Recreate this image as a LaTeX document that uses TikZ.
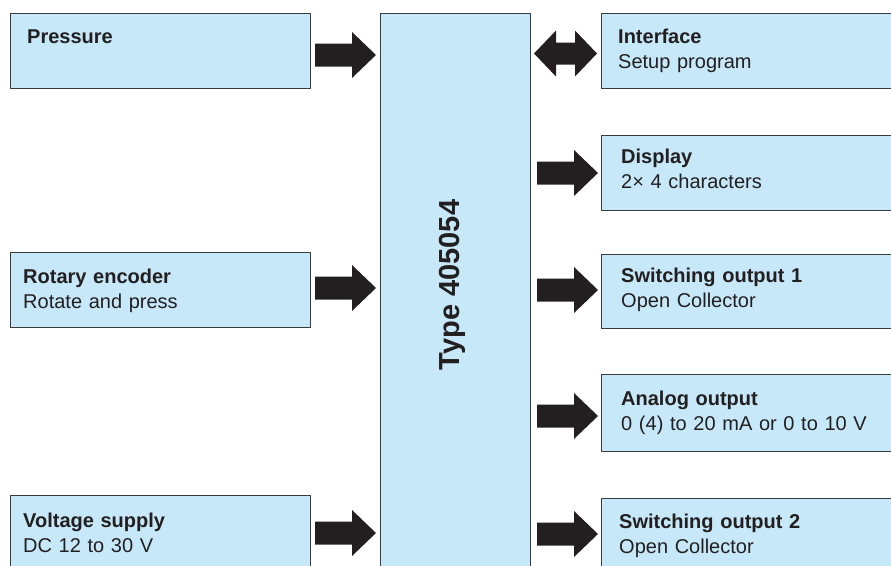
\documentclass[tikz,border=0pt]{standalone}
\usepackage{fontspec}
\setmainfont{Liberation Sans}
\usepackage{tikz}

\definecolor{boxblue}{RGB}{198,232,248}
\definecolor{boxline}{RGB}{60,60,60}
\definecolor{arrowblack}{RGB}{35,31,32}

\tikzset{
  blk/.style={draw=boxline, line width=1.2pt, fill=boxblue, anchor=north west, inner sep=0pt},
  lbl/.style={anchor=base west, inner sep=0pt, text width=265pt, align=left,
    font=\fontsize{20}{25}\selectfont, text=arrowblack},
  fatarrow/.style={fill=arrowblack}
}

% block arrows, #1 = left end of the arrow on its axis
\newcommand{\rarrow}[1]{\fill[fatarrow] (#1) ++(0,-11.5) -- ++(37,0) -- ++(0,-11.5) -- ++(24,23) -- ++(-24,23) -- ++(0,-11.5) -- ++(-37,0) -- cycle;}
\newcommand{\darrow}[1]{\fill[fatarrow] (#1) -- ++(22,-23) -- ++(0,12) -- ++(19,0) -- ++(0,-12) -- ++(22,23) -- ++(-22,23) -- ++(0,-12) -- ++(-19,0) -- ++(0,12) -- cycle;}

\begin{document}
\begin{tikzpicture}[x=1pt,y=-1pt]
\clip (0,0) rectangle (891,565);
% inputs
\node[blk, minimum width=300pt, minimum height=75pt] (press) at (10,13) {};
\node[blk, minimum width=300pt, minimum height=75pt] (rotary) at (10,252) {};
\node[blk, minimum width=300pt, minimum height=90pt] (volt) at (10,495) {};
% device
\node[blk, minimum width=150pt, minimum height=580pt] (core) at (380,13) {};
% outputs
\node[blk, minimum width=310pt, minimum height=75pt] (iface) at (601,13) {};
\node[blk, minimum width=310pt, minimum height=75pt] (disp) at (601,135) {};
\node[blk, minimum width=310pt, minimum height=74pt] (swone) at (601,254) {};
\node[blk, minimum width=310pt, minimum height=77pt] (analog) at (601,374) {};
\node[blk, minimum width=310pt, minimum height=90pt] (swtwo) at (601,498) {};

\node[rotate=90, font=\bfseries\fontsize{29}{29}\selectfont, text=arrowblack] (coretxt) at (452,285) {Type 405054};

\node[lbl] (pressT) at (27,43) {\textbf{Pressure}};
\node[lbl] (rotaryT) at (23,283) {\textbf{Rotary encoder}\\Rotate and press};
\node[lbl] (voltT) at (23,527) {\textbf{Voltage supply}\\DC 12 to 30 V};
\node[lbl] (ifaceT) at (618,43) {\textbf{Interface}\\Setup program};
\node[lbl] (dispT) at (621,163) {\textbf{Display}\\2× 4 characters};
\node[lbl] (swoneT) at (621,282) {\textbf{Switching output 1}\\Open Collector};
\node[lbl] (analogT) at (621,405) {\textbf{Analog output}\\0 (4) to 20 mA or 0 to 10 V};
\node[lbl] (swtwoT) at (619,528) {\textbf{Switching output 2}\\Open Collector};

% arrows
\rarrow{315,55}
\rarrow{315,288}
\rarrow{315,533}
\darrow{534,53.5}
\rarrow{537,173}
\rarrow{537,290}
\rarrow{537,416}
\rarrow{537,534}
\end{tikzpicture}
\end{document}
